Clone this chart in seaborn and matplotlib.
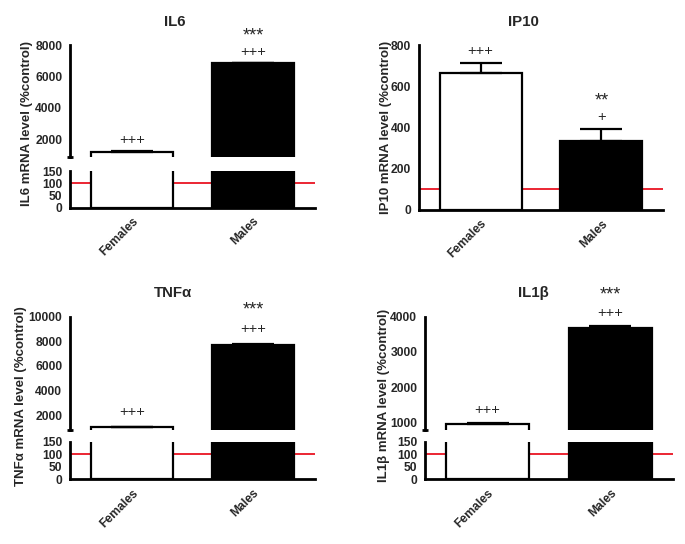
import numpy as np
import seaborn as sns
import matplotlib
matplotlib.use('Agg')
import matplotlib.pyplot as plt

# data (% of control, mean and SEM)
groups = ['Females', 'Males']
bar_colors = ['white', 'black']

il6_mean = [1160, 6850]
il6_sem = [60, 25]
il6_marks = [['+++'], ['+++', '***']]

ip10_mean = [665, 336]
ip10_sem = [50, 56]
ip10_marks = [['+++'], ['+', '**']]

tnf_mean = [1000, 7720]
tnf_sem = [30, 25]
tnf_marks = [['+++'], ['+++', '***']]

il1b_mean = [955, 3690]
il1b_sem = [45, 55]
il1b_marks = [['+++'], ['+++', '***']]

sns.set_style('white')
plt.rcParams['font.family'] = ['Liberation Sans', 'DejaVu Sans']
plt.rcParams['font.weight'] = 'bold'

W, H = 685, 544
fig = plt.figure(figsize=(W / 100, H / 100), dpi=100)


def px_axes(l, t, r, b):
    return fig.add_axes([l / W, 1 - b / H, (r - l) / W, (b - t) / H])


def style(ax):
    sns.despine(ax=ax)
    for s in ['left', 'bottom']:
        ax.spines[s].set_linewidth(2)
        ax.spines[s].set_color('black')
    ax.tick_params(width=2, length=4, direction='out', labelsize=8.7,
                   pad=1.5, color='black')
    ax.set_xlim(-0.51, 1.51)
    ax.set_xlabel('')
    ax.set_ylabel('')


def draw_bars(ax, mean, sem):
    sns.barplot(x=groups, y=mean, hue=groups, palette=bar_colors,
                edgecolor='black', linewidth=1.6, width=0.68,
                errorbar=None, legend=False, ax=ax)
    ax.errorbar([0, 1], mean, yerr=[np.zeros(2), sem], fmt='none',
                ecolor='black', elinewidth=1.6, capsize=15, capthick=1.6,
                zorder=3)


def add_marks(ax, mean, sem, marks, lift=0):
    for i, lines in enumerate(marks):
        top = mean[i] + sem[i]
        for j, t in enumerate(lines):
            star = t.startswith('*')
            ax.annotate(t, xy=(i, top), xytext=(0, 8 + 16 * j + lift * (j + 1)),
                        textcoords='offset pixels', ha='center',
                        va='baseline', fontsize=13 if star else 10.5,
                        fontweight='normal', annotation_clip=False)


def xlabels(ax):
    ax.set_xticks([0, 1])
    ax.set_xticklabels(groups, rotation=45, ha='right',
                       rotation_mode='anchor', fontsize=8.7)


def broken_panel(x0, x1, y_top, y_brk, y_low_top, y_low_bot,
                 mean, sem, marks, up_lim, up_ticks, lift=0):
    ax_up = px_axes(x0, y_top, x1, y_brk)
    ax_lo = px_axes(x0, y_low_top, x1, y_low_bot)
    for ax in (ax_up, ax_lo):
        draw_bars(ax, mean, sem)
        style(ax)
    ax_lo.axhline(100, color='#e8000f', lw=1.2, zorder=0.5)
    ax_up.set_ylim(*up_lim)
    ax_up.set_yticks(up_ticks)
    ax_up.spines['bottom'].set_visible(False)
    ax_up.tick_params(axis='x', bottom=False, labelbottom=False)
    ax_up.plot([-0.014, 0.014], [0, 0], transform=ax_up.transAxes,
               color='black', lw=2, clip_on=False, solid_capstyle='butt')
    ax_lo.set_ylim(0, 150)
    ax_lo.set_yticks([0, 50, 100, 150])
    xlabels(ax_lo)
    add_marks(ax_up, mean, sem, marks, lift)
    return ax_up, ax_lo


# IL6
broken_panel(70, 315, 45, 157, 171, 207.7, il6_mean, il6_sem, il6_marks,
             (866, 8000), [2000, 4000, 6000, 8000], lift=-1)
# TNFa
broken_panel(70, 315, 316.7, 430, 441.7, 479.3, tnf_mean, tnf_sem, tnf_marks,
             (790, 10000), [2000, 4000, 6000, 8000, 10000], lift=3)
# IL1b
broken_panel(425, 673, 316.7, 430, 441.7, 479.3, il1b_mean, il1b_sem,
             il1b_marks, (790, 4000), [1000, 2000, 3000, 4000], lift=1)

# IP10 (single axis)
ax = px_axes(419, 45, 663, 210)
draw_bars(ax, ip10_mean, ip10_sem)
style(ax)
ax.axhline(100, color='#e8000f', lw=1.2, zorder=0.5)
ax.set_ylim(0, 800)
ax.set_yticks([0, 200, 400, 600, 800])
xlabels(ax)
add_marks(ax, ip10_mean, ip10_sem, ip10_marks)

# titles and y labels
titles = [('IL6', 175, 22), ('IP10', 523, 22),
          ('TNF\u03b1', 173, 293), ('IL1\u03b2', 533, 293)]
for t, x, y in titles:
    fig.text(x / W, 1 - y / H, t, ha='center', va='center', fontsize=10.8,
             fontweight='bold')

ylabs = [('IL6 mRNA level (%control)', 27, 124),
         ('IP10 mRNA level (%control)', 386, 127),
         ('TNF\u03b1 mRNA level (%control)', 21, 396),
         ('IL1\u03b2 mRNA level (%control)', 384, 395)]
for t, x, y in ylabs:
    fig.text(x / W, 1 - y / H, t, ha='center', va='center', rotation=90,
             fontsize=9.5, fontweight='bold')

fig.savefig('out.png', dpi=100)
